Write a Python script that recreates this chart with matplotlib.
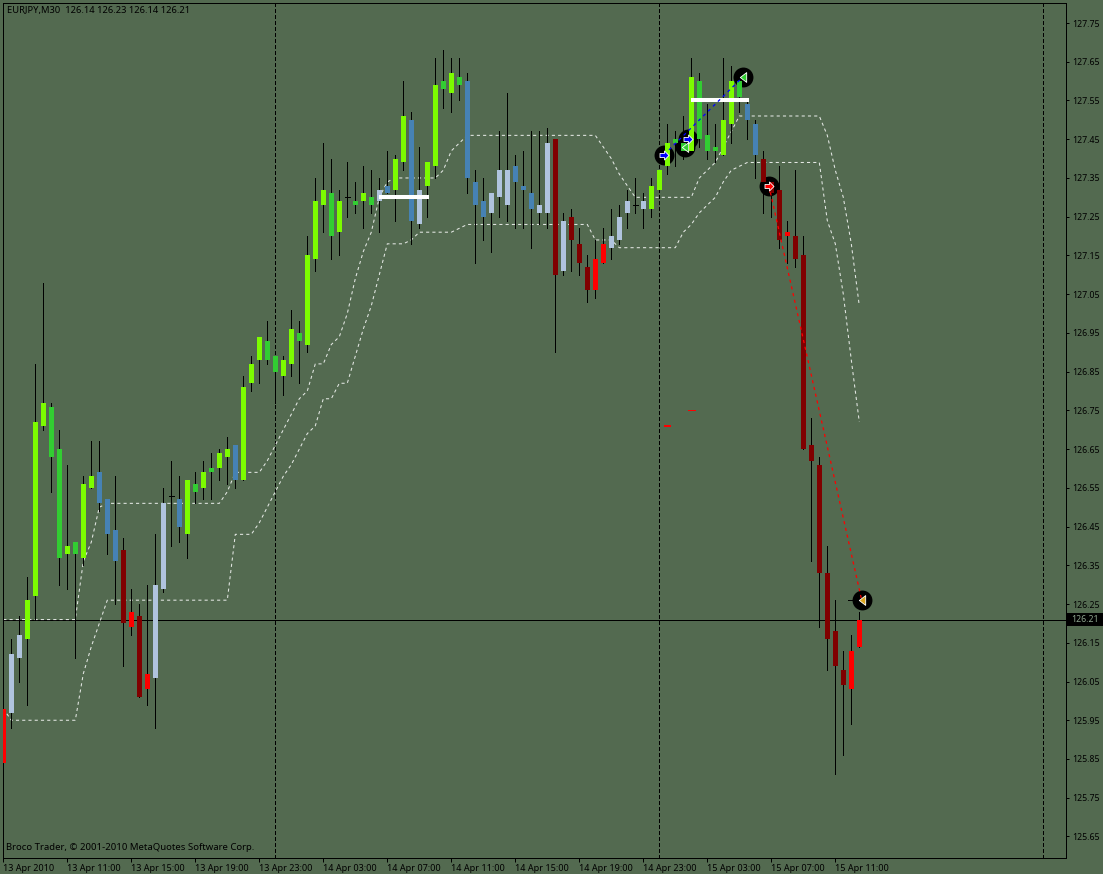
import matplotlib
matplotlib.use("Agg")
import matplotlib.pyplot as plt
from matplotlib.path import Path
from matplotlib.patches import Rectangle

# EURJPY M30 candles (prices have 2 decimals)
highs = [125.99, 126.16, 126.22, 126.32, 126.87, 127.08, 126.77, 126.70, 126.61, 126.41,
         126.58, 126.67, 126.67, 126.52, 126.58, 126.42, 126.29, 126.25, 126.30, 126.43,
         126.55, 126.62, 126.58, 126.57, 126.59, 126.62, 126.64, 126.65, 126.68, 126.66,
         126.84, 126.89, 126.94, 126.98, 126.89, 126.89, 127.01, 126.98, 127.20, 127.35,
         127.44, 127.40, 127.32, 127.39, 127.34, 127.38, 127.37, 127.35, 127.42, 127.41,
         127.60, 127.52, 127.43, 127.39, 127.66, 127.68, 127.66, 127.66, 127.62, 127.37,
         127.35, 127.31, 127.47, 127.57, 127.41, 127.42, 127.47, 127.47, 127.48, 127.45,
         127.26, 127.27, 127.22, 127.15, 127.19, 127.22, 127.27, 127.28, 127.32, 127.35,
         127.31, 127.35, 127.37, 127.49, 127.47, 127.51, 127.66, 127.62, 127.54, 127.49,
         127.66, 127.64, 127.61, 127.55, 127.50, 127.42, 127.34, 127.38, 127.24, 127.37,
         127.20, 126.73, 126.63, 126.40, 126.26, 126.13, 126.17, 126.23]
lows = [125.73, 125.93, 126.05, 125.99, 126.21, 126.70, 126.54, 126.30, 126.29, 126.11,
        126.35, 126.55, 126.49, 126.38, 126.25, 126.09, 126.17, 126.01, 125.99, 125.93,
        126.28, 126.40, 126.41, 126.37, 126.51, 126.52, 126.52, 126.57, 126.56, 126.55,
        126.57, 126.80, 126.82, 126.87, 126.77, 126.79, 126.84, 126.82, 126.90, 127.11,
        127.21, 127.14, 127.15, 127.25, 127.26, 127.22, 127.26, 127.21, 127.31, 127.24,
        127.37, 127.18, 127.22, 127.25, 127.35, 127.53, 127.52, 127.55, 127.31, 127.13,
        127.19, 127.16, 127.25, 127.24, 127.22, 127.22, 127.17, 127.23, 127.22, 126.90,
        127.10, 127.11, 127.10, 127.03, 127.04, 127.13, 127.14, 127.18, 127.22, 127.26,
        127.22, 127.25, 127.32, 127.36, 127.38, 127.40, 127.42, 127.43, 127.40, 127.39,
        127.41, 127.44, 127.52, 127.45, 127.35, 127.26, 127.25, 127.17, 127.13, 127.12,
        126.65, 126.36, 126.19, 126.08, 125.81, 125.86, 125.94, 126.14]
body_top = [125.98, 126.12, 126.17, 126.26, 126.72, 126.77, 126.76, 126.65, 126.40, 126.41,
            126.56, 126.58, 126.59, 126.52, 126.44, 126.39, 126.23, 126.22, 126.07, 126.30,
            126.51, 126.53, 126.52, 126.57, 126.56, 126.59, 126.60, 126.64, 126.65, 126.66,
            126.81, 126.87, 126.94, 126.93, 126.89, 126.88, 126.96, 126.95, 127.15, 127.29,
            127.32, 127.31, 127.29, 127.30, 127.29, 127.31, 127.30, 127.32, 127.33, 127.40,
            127.51, 127.50, 127.32, 127.39, 127.59, 127.60, 127.62, 127.61, 127.60, 127.34,
            127.29, 127.31, 127.37, 127.37, 127.38, 127.33, 127.31, 127.28, 127.44, 127.45,
            127.24, 127.25, 127.18, 127.12, 127.14, 127.18, 127.20, 127.25, 127.29, 127.28,
            127.29, 127.33, 127.37, 127.44, 127.45, 127.44, 127.61, 127.60, 127.46, 127.43,
            127.50, 127.60, 127.60, 127.54, 127.49, 127.40, 127.34, 127.32, 127.21, 127.20,
            127.15, 126.66, 126.61, 126.33, 126.18, 126.08, 126.13, 126.21]
body_bot = [125.84, 125.97, 126.11, 126.16, 126.27, 126.71, 126.63, 126.37, 126.38, 126.38,
            126.37, 126.55, 126.51, 126.43, 126.36, 126.20, 126.19, 126.01, 126.03, 126.06,
            126.29, 126.53, 126.45, 126.43, 126.54, 126.55, 126.59, 126.60, 126.63, 126.57,
            126.57, 126.82, 126.88, 126.88, 126.85, 126.84, 126.87, 126.93, 126.92, 127.14,
            127.28, 127.20, 127.21, 127.30, 127.28, 127.29, 127.28, 127.29, 127.31, 127.32,
            127.39, 127.24, 127.23, 127.33, 127.38, 127.58, 127.57, 127.59, 127.35, 127.28,
            127.25, 127.26, 127.30, 127.28, 127.34, 127.32, 127.27, 127.26, 127.26, 127.10,
            127.11, 127.19, 127.13, 127.06, 127.06, 127.13, 127.17, 127.19, 127.26, 127.28,
            127.27, 127.27, 127.32, 127.38, 127.44, 127.42, 127.42, 127.45, 127.42, 127.42,
            127.41, 127.49, 127.56, 127.50, 127.41, 127.34, 127.31, 127.19, 127.20, 127.14,
            126.65, 126.62, 126.33, 126.16, 126.09, 126.04, 126.03, 126.14]
# colour class of each candle: S strong up, U up, B down pause, L pullback, M strong down, R down, D doji
kinds = list("R" + "LLSSSUUSU" + "SSBBBMRMRL" + "LDBSUSUSSB" + "SSSUUSSUSS"
             + "SUSDUSULBS" + "SBLSSUSUBB" + "BLLLBBBLLM" + "LMMMRRLLLD"
             + "LSSSUUSUUU" + "SSUBBMMMRM" + "MMMMMMRR")

upper_band = [126.21] * 10 + [126.36, 126.41, 126.50] + [126.51] * 15 + [126.54, 126.59, 126.59, 126.59, 126.59,
              126.62, 126.66, 126.70, 126.74, 126.78, 126.80, 126.87, 126.87, 126.92, 126.94, 127.00,
              127.09, 127.16, 127.21, 127.30, 127.34] + [127.35] * 6 + [127.37, 127.42, 127.44] + [127.46] * 17 + [
              127.43, 127.40, 127.36, 127.33] + [127.30] * 8 + [127.35, 127.37, 127.39, 127.43, 127.47, 127.51] + [
              127.51] * 10 + [127.46, 127.37, 127.30, 127.18, 127.02]
lower_band = [125.98] + [125.95] * 9 + [126.07, 126.14, 126.20] + [126.26] * 16 + [126.43, 126.43, 126.43,
              126.46, 126.50, 126.54, 126.58, 126.61, 126.65, 126.69, 126.71, 126.78, 126.78, 126.82, 126.82,
              126.89, 126.96, 127.02, 127.10, 127.18, 127.18, 127.18, 127.19, 127.21, 127.21, 127.21, 127.21,
              127.21, 127.22] + [127.23] * 16 + [127.19, 127.19, 127.19] + [127.17] * 8 + [127.21, 127.23,
              127.26, 127.28, 127.30, 127.34, 127.37, 127.38] + [127.39] * 10 + [127.24, 127.18, 127.05, 126.88, 126.72]

# trade signals (bar position, price)
buy_x, buy_y = [82.6, 85.6], [127.41, 127.45]
buy_close_x, buy_close_y = [85.2, 92.4], [127.43, 127.61]
sell_x, sell_y = [95.7], [127.33]
sell_close_x, sell_close_y = [107.3], [126.26]
blue_link_x, blue_link_y = [82.6, 92.4], [127.41, 127.61]
red_link_x, red_link_y = [95.7, 107.3], [127.33, 126.26]

price_ticks = [127.75, 127.65, 127.55, 127.45, 127.35, 127.25, 127.15, 127.05, 126.95, 126.85, 126.75,
               126.65, 126.55, 126.45, 126.35, 126.25, 126.15, 126.05, 125.95, 125.85, 125.75, 125.65]
time_ticks = [0, 8, 16, 24, 32, 40, 48, 56, 64, 72, 80, 88, 96, 104]
time_labels = ["13 Apr 2010", "13 Apr 11:00", "13 Apr 15:00", "13 Apr 19:00", "13 Apr 23:00", "14 Apr 03:00",
               "14 Apr 07:00", "14 Apr 11:00", "14 Apr 15:00", "14 Apr 19:00", "14 Apr 23:00", "15 Apr 03:00",
               "15 Apr 07:00", "15 Apr 11:00"]
day_breaks = [34, 82, 130]
last_price = 126.21

bg = "#536A50"
palette = {"S": "#7CFC00", "U": "#32CD32", "B": "#4682B4", "L": "#B0C4DE", "M": "#800000", "R": "#FF0000",
           "D": "#000000"}

W, H = 1103, 874
plt.rcParams["font.family"] = ["Noto Sans", "DejaVu Sans"]
fig = plt.figure(figsize=(W / 100, H / 100), dpi=100, facecolor=bg)
ax = fig.add_axes([2.5 / W, 1 - 857.5 / H, (1065.5 - 2.5) / W, (857.5 - 2.5) / H], facecolor=bg)
ax.set_xlim(-0.1, 132.775)
ax.set_ylim(125.5957, 127.8030)

xs = list(range(len(highs)))
px = 0.72  # one pixel in points

# separators and last price line
for d in day_breaks:
    ax.axvline(d, color="black", lw=px, ls=(0, (3, 2.5)), zorder=1, antialiased=False)
ax.axhline(last_price, color="black", lw=px, zorder=1, antialiased=False)

# indicator bands
for band in (upper_band, lower_band):
    ax.plot(xs, band, color="#E4E8E4", lw=0.75, ls=(0, (3, 3)), zorder=2)

# signal discs go under the candles
ax.scatter(buy_x + buy_close_x + sell_x + sell_close_x, buy_y + buy_close_y + sell_y + sell_close_y,
           s=205, color="black", lw=0, zorder=2.5)

ax.vlines(xs, lows, highs, color="black", lw=px, zorder=3, antialiased=False)
ax.bar(xs, [t - b for t, b in zip(body_top, body_bot)], bottom=body_bot, width=5 / 8,
       color=[palette[k] for k in kinds], lw=0, zorder=4, antialiased=False)
for x, t, k in zip(xs, body_top, kinds):
    if k == "D":
        ax.hlines(t, x - 0.32, x + 0.32, color="black", lw=px, zorder=4, antialiased=False)

# white level bars
ax.hlines(127.30, 46.9, 53.2, color="white", lw=2.9, zorder=5)
ax.hlines(127.55, 85.9, 93.2, color="white", lw=2.9, zorder=5)

# links between entries and exits
ax.plot(blue_link_x, blue_link_y, color="#0000FF", lw=0.9, ls=(0, (2.5, 3)), zorder=6)
ax.plot(red_link_x, red_link_y, color="#FF0000", lw=0.9, ls=(0, (2.5, 3)), zorder=6)

# little arrow marks
arrow = Path([(-1, -0.45), (0.0, -0.45), (0.0, -1), (1, 0), (0.0, 1), (0.0, 0.45), (-1, 0.45), (-1, -0.45)], closed=True)
tri = Path([(-0.65, 0), (0.65, 1), (0.65, -1), (-0.65, 0)], closed=True)
ax.scatter(buy_x, buy_y, marker=arrow, s=42, color="#0000FF", edgecolors="white", lw=0.6, zorder=7)
ax.scatter(sell_x, sell_y, marker=arrow, s=42, color="#FF0000", edgecolors="white", lw=0.6, zorder=7)
ax.scatter(buy_close_x, buy_close_y, marker=tri, s=50, color="#32CD32", edgecolors="white", lw=0.6, zorder=7)
ax.scatter(sell_close_x, sell_close_y, marker=tri, s=50, color="#DAA520", edgecolors="white", lw=0.6, zorder=7)

# stray order marks
ax.hlines(126.71, 82.6, 83.5, color="#FF0000", lw=1.4, zorder=5, antialiased=False)
ax.hlines(126.75, 85.6, 86.5, color="#FF0000", lw=px, zorder=5, antialiased=False)
ax.hlines(126.26, 105.6, 106.3, color="black", lw=px, zorder=5, antialiased=False)

for s in ax.spines.values():
    s.set_color("black")
    s.set_linewidth(px)

ax.yaxis.tick_right()
ax.set_yticks(price_ticks)
ax.set_yticklabels([f"{p:.2f}" for p in price_ticks])
ax.tick_params(axis="y", length=2.5, width=px, pad=2, labelsize=6.3, colors="black")
ax.set_xticks(time_ticks)
ax.set_xticklabels(time_labels, ha="left")
ax.tick_params(axis="x", length=3, width=px, pad=1.5, labelsize=6.5, colors="black")

fig.text(7 / W, 1 - 10 / H, "EURJPY,M30  126.14 126.23 126.14 126.21", fontsize=6.75, color="black", va="center")
fig.text(6 / W, 1 - 848 / H, "Broco Trader, \u00a9 2001-2010 MetaQuotes Software Corp.", fontsize=6.9, color="black",
         va="center")

# current price tag
fig.add_artist(Rectangle((1067 / W, 1 - 626 / H), 36 / W, 13 / H, transform=fig.transFigure, color="black", lw=0))
fig.text(1071 / W, 1 - 620 / H, f"{last_price:.2f}", fontsize=6.3, color="#8FA58F", va="center", zorder=10)

fig.savefig("out.png", dpi=100, facecolor=bg)
